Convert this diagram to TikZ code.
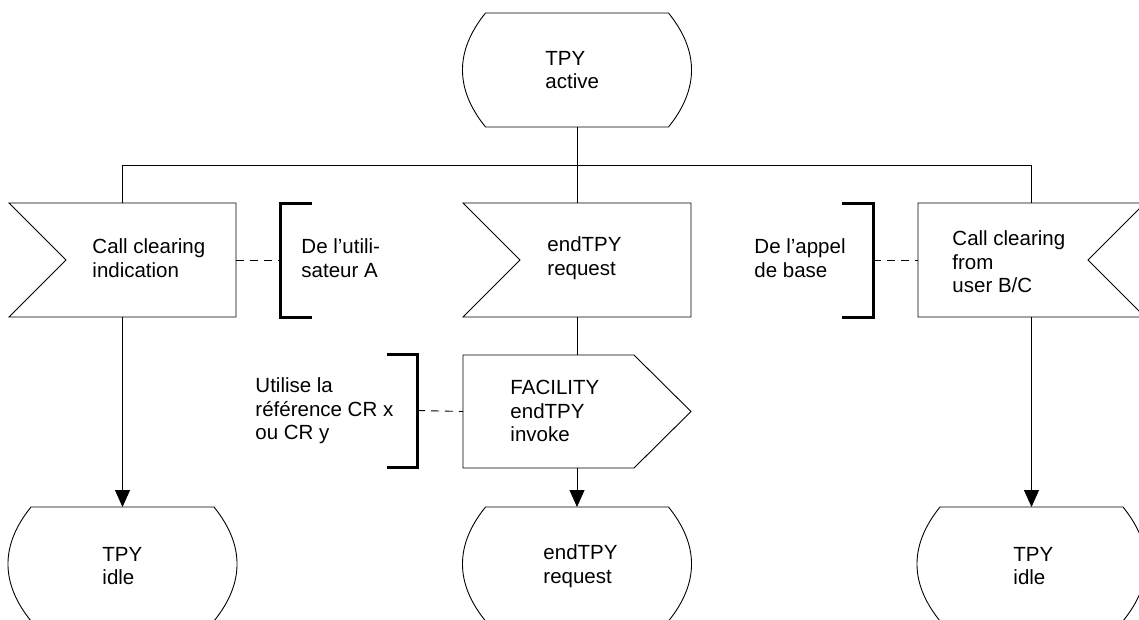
\documentclass[tikz,border=0pt]{standalone}
\usepackage{fontspec}
\setmainfont{Liberation Sans}
\usetikzlibrary{arrows.meta,calc}
\begin{document}
\begin{tikzpicture}[x=1pt,y=-1pt,line width=0.9pt,
  lbl/.style={align=left,anchor=west,inner sep=0pt,font=\fontsize{20.5}{23.5}\selectfont},
  frame/.style={draw=none,inner sep=0pt,outer sep=0pt},
  shp/.style={draw,line width=0.9pt,line join=miter},
  brk/.style={line width=3pt,line join=miter},
  dsh/.style={dash pattern=on 8pt off 6pt},
  arr/.style={-{Triangle[length=17pt,width=15pt]}},
  statepic/.pic={
    \draw[shp] (-91.5,-57) -- (91.5,-57) .. controls (122.2,-19) and (122.2,19) .. (91.5,57)
      -- (-91.5,57) .. controls (-122.2,19) and (-122.2,-19) .. (-91.5,-57) -- cycle;
    \coordinate (-top) at (0,-57);
    \coordinate (-bot) at (0,57);
  }]
\useasboundingbox (0,0) rectangle (1139,619);

% states
\pic (s0) at (577,70) {statepic};
\pic (s1) at (122.5,564) {statepic};
\pic (s2) at (577,564) {statepic};
\pic (s3) at (1031.5,564) {statepic};

% input signals
\node[frame,minimum width=227pt,minimum height=114pt] (in1) at (122.5,260) {};
\node[frame,minimum width=228pt,minimum height=114pt] (in2) at (577,260) {};
\node[frame,minimum width=227pt,minimum height=114pt] (in3) at (1031.5,260) {};
\draw[shp] (in1.north west) -- (in1.north east) -- (in1.south east) -- (in1.south west)
  -- ($(in1.west)+(57,0)$) -- cycle;
\draw[shp] (in2.north west) -- (in2.north east) -- (in2.south east) -- (in2.south west)
  -- ($(in2.west)+(57,0)$) -- cycle;
\draw[shp] (in3.north west) -- (in3.north east) -- ($(in3.east)+(-57,0)$)
  -- (in3.south east) -- (in3.south west) -- cycle;

% output signal
\node[frame,minimum width=228pt,minimum height=113pt] (out1) at (577,411.5) {};
\draw[shp] (out1.north west) -- ($(out1.north east)+(-57,0)$) -- (out1.east)
  -- ($(out1.south east)+(-57,0)$) -- (out1.south west) -- cycle;

% brackets
\coordinate (br1) at (280,260);
\coordinate (br2) at (873,260);
\coordinate (br3) at (417,410.5);
\draw[brk] ($(br1)+(32,-57)$) -- ++(-32,0) -- ++(0,114) -- ++(32,0);
\draw[brk] ($(br2)+(-31,-57)$) -- ++(31,0) -- ++(0,114) -- ++(-31,0);
\draw[brk] ($(br3)+(-30,-56.5)$) -- ++(30,0) -- ++(0,113) -- ++(-30,0);

% connectors
\coordinate (j0) at (577,165);
\draw (s0-bot) -- (in2.north);
\draw (in1.north) -- (in1.north |- j0) -- (in3.north |- j0) -- (in3.north);
\draw[arr] (in1.south) -- (s1-top);
\draw (in2.south) -- (out1.north);
\draw[arr] (out1.south) -- (s2-top);
\draw[arr] (in3.south) -- (s3-top);
\draw[dsh] (in1.east) -- (br1);
\draw[dsh] (br2) -- (in3.west);
\draw[dsh] (br3) -- (out1.west);

% texts
\node[lbl] (t0) at (545,70) {TPY\\active};
\node[lbl] (tin1) at (92,258) {Call clearing\\indication};
\node[lbl] (tbr1) at (301,258) {De l’utili-\\sateur A};
\node[lbl] (tin2) at (547,258) {endTPY\\request};
\node[lbl] (tbr2) at (754,258) {De l’appel\\de base};
\node[lbl] (tin3) at (952,262) {Call clearing\\from\\user B/C};
\node[lbl] (tbr3) at (255,411) {Utilise la\\référence CR x\\ou CR y};
\node[lbl] (tout) at (510,411) {FACILITY\\endTPY\\invoke};
\node[lbl] (ts1) at (102,566) {TPY\\idle};
\node[lbl] (ts2) at (543,566) {endTPY\\request};
\node[lbl] (ts3) at (1013,566) {TPY\\idle};
\end{tikzpicture}
\end{document}
